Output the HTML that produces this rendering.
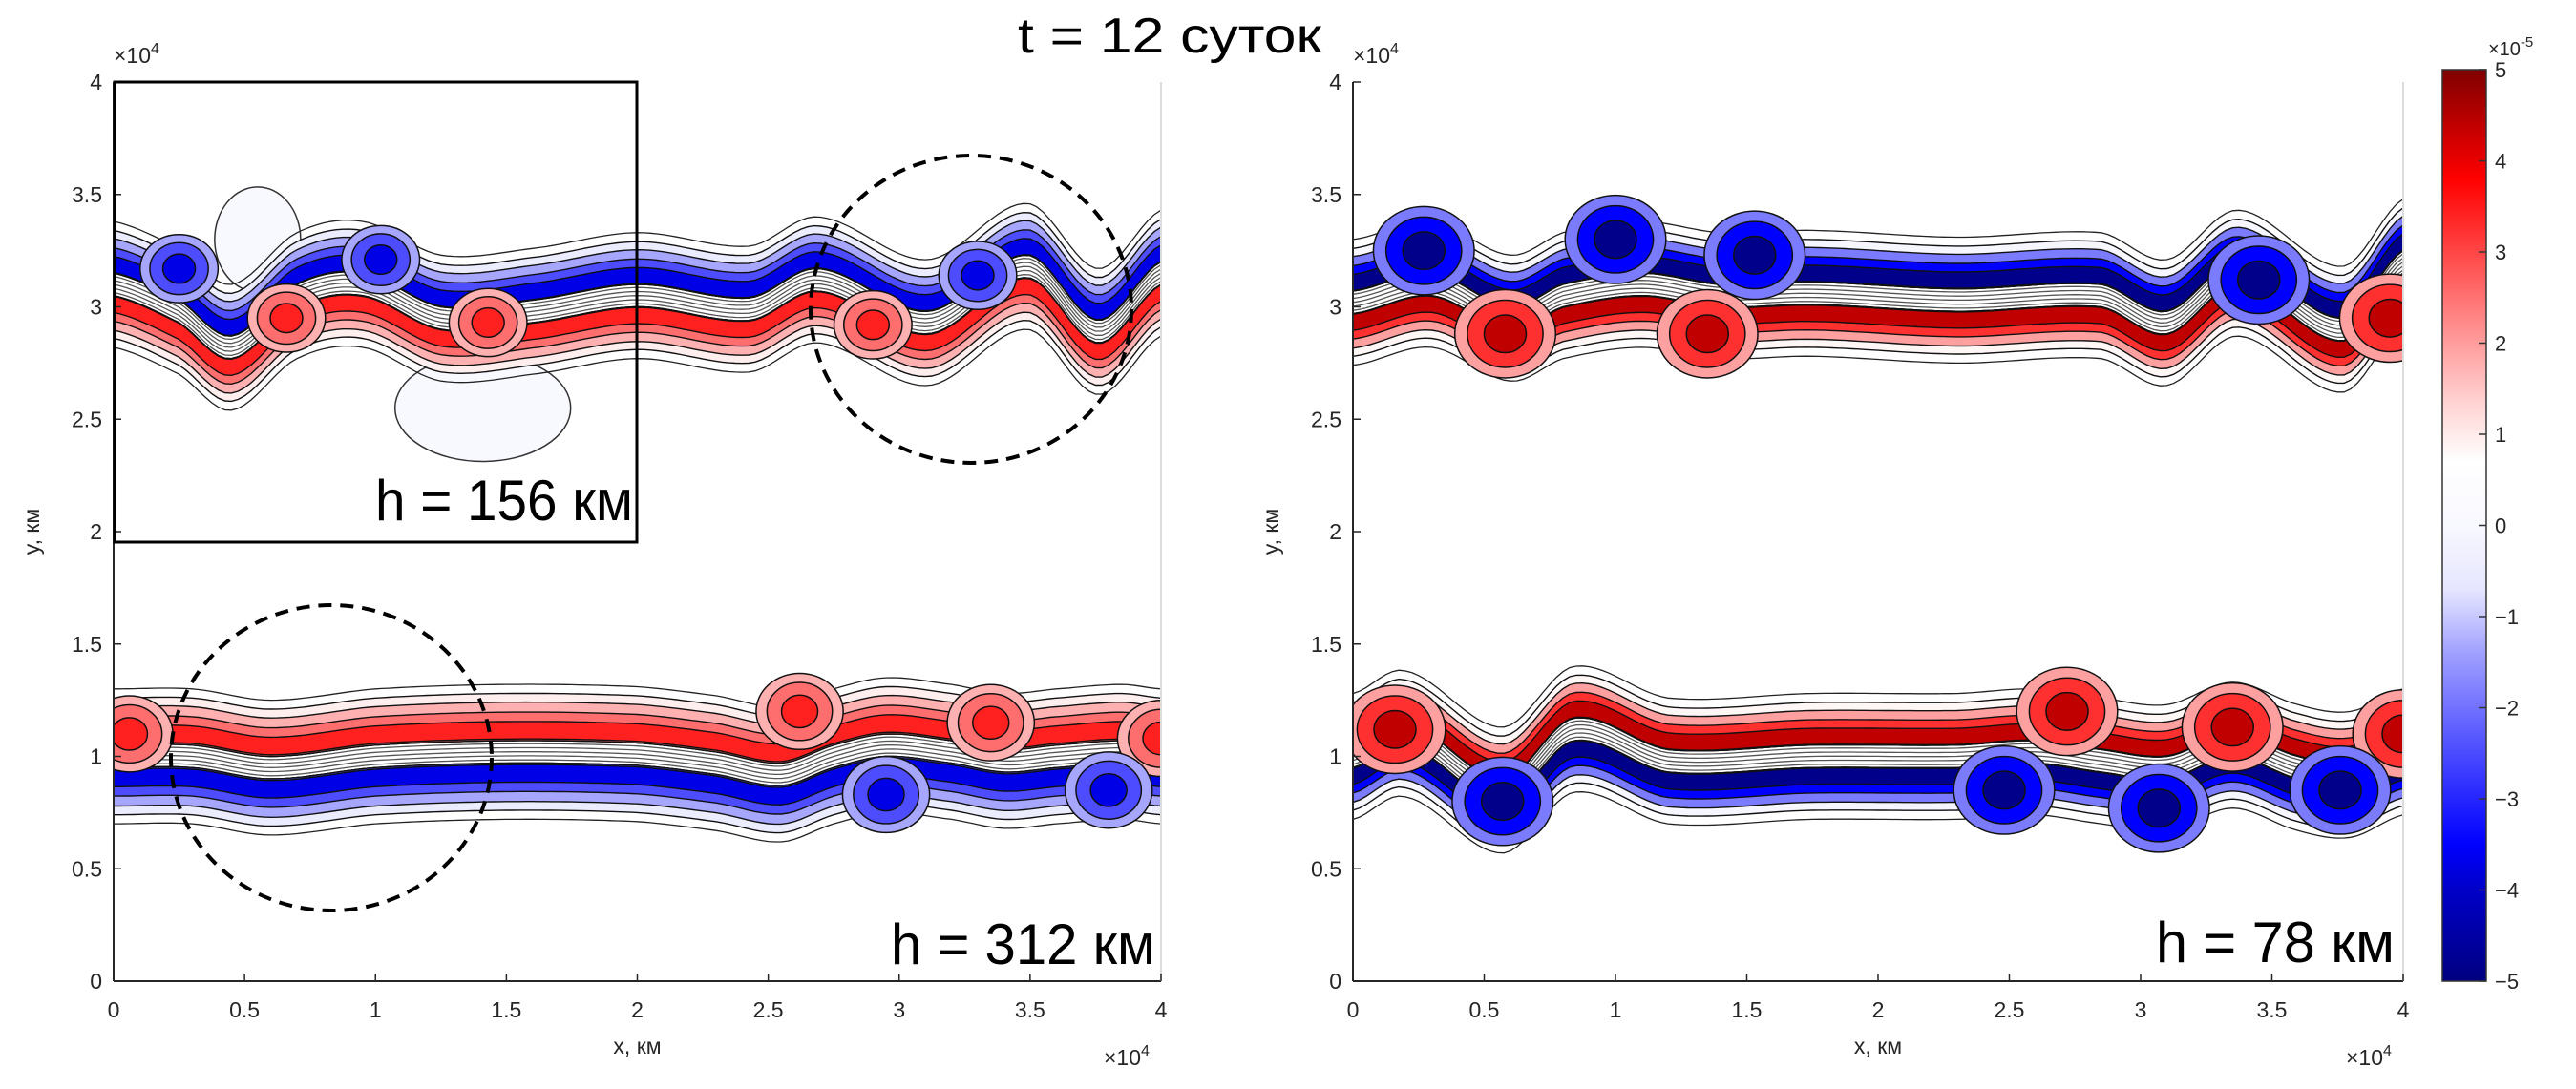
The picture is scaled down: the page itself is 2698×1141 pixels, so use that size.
<!DOCTYPE html>
<html><head><meta charset="utf-8"><style>
html,body{margin:0;padding:0;background:#fff;}
svg{display:block;font-family:"Liberation Sans",sans-serif;}
</style></head><body>
<svg id="fig" width="2698" height="1141" viewBox="0 0 2698 1141" xmlns="http://www.w3.org/2000/svg">
<defs>
<clipPath id="clipL"><rect x="119" y="86" width="1097" height="942"/></clipPath>
<clipPath id="clipR"><rect x="1417" y="86" width="1100" height="942"/></clipPath>
<linearGradient id="cbar" x1="0" y1="1" x2="0" y2="0">
<stop offset="0" stop-color="#000080"/><stop offset="0.1" stop-color="#0000c8"/>
<stop offset="0.15" stop-color="#0000ff"/><stop offset="0.27" stop-color="#5a5aff"/>
<stop offset="0.36" stop-color="#a0a0ff"/><stop offset="0.43" stop-color="#e6e6ff"/>
<stop offset="0.5" stop-color="#f8f8ff"/><stop offset="0.57" stop-color="#ffffff"/>
<stop offset="0.63" stop-color="#ffd6d6"/><stop offset="0.72" stop-color="#ff8c8c"/>
<stop offset="0.82" stop-color="#ff3434"/><stop offset="0.88" stop-color="#ff0000"/>
<stop offset="1" stop-color="#800000"/>
</linearGradient>
</defs>
<text x="1225" y="55" font-size="52" text-anchor="middle" fill="#000" textLength="318" lengthAdjust="spacingAndGlyphs">t = 12 суток</text>
<g id="panelL"><g id="fieldL" clip-path="url(#clipL)"></g></g>
<g id="panelR"><g id="fieldR" clip-path="url(#clipR)"></g></g>
<g id="axes"></g>
<rect x="120" y="86" width="547" height="482" fill="none" stroke="#000" stroke-width="3"/>
<ellipse cx="1017" cy="324" rx="168" ry="161" fill="none" stroke="#000" stroke-width="4" stroke-dasharray="14,9"/>
<ellipse cx="347" cy="794" rx="168" ry="160" fill="none" stroke="#000" stroke-width="4" stroke-dasharray="14,9"/>
<text x="663" y="545" font-size="60" text-anchor="end" textLength="270" lengthAdjust="spacingAndGlyphs">h = 156 км</text>
<text x="1210" y="1010" font-size="60" text-anchor="end" textLength="277" lengthAdjust="spacingAndGlyphs">h = 312 км</text>
<text x="2508" y="1008" font-size="60" text-anchor="end" textLength="250" lengthAdjust="spacingAndGlyphs">h = 78 км</text>
<rect x="2558" y="73" width="46" height="955" fill="url(#cbar)" stroke="#333" stroke-width="1.5"/>
<g id="cbticks"></g>
<text x="2606" y="58" font-size="20" fill="#262626">×10<tspan dy="-9" font-size="15">-5</tspan></text>
</svg>
<script>
// ---- data (x, y in units of 1e4 km) ----
var ltX = [0,0.25,0.45,0.7,0.95,1.25,1.6,2.0,2.43,2.69,3.11,3.49,3.76,4.0];
var ltC = [3.1,2.98,2.82,3.05,3.1,2.95,2.98,3.05,2.99,3.12,2.93,3.18,2.89,3.15];
var lbX = [0,0.3,0.6,1.0,1.5,2.0,2.3,2.55,2.75,2.95,3.2,3.4,3.6,3.85,4.0];
var lbC = [1.0,1.0,0.95,1.0,1.02,1.01,0.97,0.92,1.0,1.05,1.02,0.98,1.0,1.02,1.0];
var rtX = [0,0.3,0.6,0.8,1.1,1.4,1.75,2.3,2.85,3.1,3.37,3.77,4.0];
var rtC = [3.02,3.1,2.95,3.05,3.1,3.05,3.06,3.03,3.05,2.93,3.15,2.9,3.2];
var rbX = [0,0.2,0.57,0.84,1.2,1.75,2.3,2.6,2.85,3.1,3.35,3.6,3.8,4.0];
var rbC = [1.0,1.1,0.85,1.12,0.98,1.0,1.0,1.02,0.98,0.95,1.05,0.95,0.92,1.02];
// vortices: x, y, sign(+1 red / -1 blue)
var ltVx = [0.25,1.02,0.66,1.43,3.3,2.9];
var ltVy = [3.17,3.21,2.95,2.93,3.14,2.92];
var ltVs = [-1,-1,1,1,-1,1];
var lbVx = [2.62,3.35,4.0,2.95,3.8,0.06];
var lbVy = [1.2,1.15,1.08,0.83,0.85,1.1];
var lbVs = [1,1,1,-1,-1,1];
var rtVx = [0.27,1.0,1.53,0.58,1.35,3.95,3.45];
var rtVy = [3.25,3.3,3.23,2.88,2.88,2.95,3.12];
var rtVs = [-1,-1,-1,1,1,1,-1];
var rbVx = [0.16,2.72,3.35,4.0,0.57,2.48,3.07,3.76];
var rbVy = [1.12,1.2,1.13,1.1,0.8,0.85,0.77,0.85];
var rbVs = [1,1,1,1,-1,-1,-1,-1];
var xTicks = ["0","0.5","1","1.5","2","2.5","3","3.5","4"];
var yTicks = ["0","0.5","1","1.5","2","2.5","3","3.5","4"];
var cbTicks = ["-5","-4","-3","-2","-1","0","1","2","3","4","5"];

var NS="http://www.w3.org/2000/svg";
function mk(t,a,p){var e=document.createElementNS(NS,t);for(var k in a)e.setAttribute(k,a[k]);p.appendChild(e);return e;}
var panels={L:{x0:119,x1:1216},R:{x0:1417,x1:2517}};
var Y0=1028,Y1=86;
function sx(P,x){return P.x0+x*(P.x1-P.x0)/4;}
function sy(y){return Y0-y*(Y0-Y1)/4;}
function interp(xs,ys,x){
  var n=xs.length;if(x<=xs[0])return ys[0];if(x>=xs[n-1])return ys[n-1];
  var i=0;while(xs[i+1]<x)i++;
  var t=(x-xs[i])/(xs[i+1]-xs[i]);
  var p0=ys[Math.max(i-1,0)],p1=ys[i],p2=ys[i+1],p3=ys[Math.min(i+2,n-1)];
  var m1=(p2-p0)/2,m2=(p3-p1)/2;
  var t2=t*t,t3=t2*t;
  return (2*t3-3*t2+1)*p1+(t3-2*t2+t)*m1+(-2*t3+3*t2)*p2+(t3-t2)*m2;
}
function bandPath(P,xs,cs,a,b){
  var N=160,up=[],dn=[];
  for(var i=0;i<=N;i++){var x=4*i/N,c=interp(xs,cs,x);
    up.push(sx(P,x).toFixed(1)+","+sy(c+b).toFixed(1));
    dn.push(sx(P,x).toFixed(1)+","+sy(c+a).toFixed(1));}
  return "M"+up.join("L")+"L"+dn.reverse().join("L")+"Z";
}
function linePath(P,xs,cs,o){
  var N=160,pts=[];
  for(var i=0;i<=N;i++){var x=4*i/N,c=interp(xs,cs,x);pts.push(sx(P,x).toFixed(1)+","+sy(c+o).toFixed(1));}
  return "M"+pts.join("L");
}
var palL={b:["#ececff","#a6a6ff","#4d4dff","#0000e6"],r:["#ffeeee","#ffb0b0","#ff6e6e","#ff2020"]};
var palR={b:["#f6f6ff","#7b7bff","#0000ff","#00008b"],r:["#fff6f6","#ffa0a0","#ff3030","#c00000"]};
function jet(g,P,xs,cs,topSign,W,pal,name){
  var gp=0.05;
  var topSet=topSign>0?pal.r:pal.b, botSet=topSign>0?pal.b:pal.r;
  var layers=[[gp,W,0],[gp,0.85*W,1],[gp,0.68*W,2],[0.22*W,0.52*W,3]];
  for(var k=0;k<layers.length;k++){
    var L=layers[k];
    var e=mk("path",{d:bandPath(P,xs,cs,L[0],L[1]),fill:topSet[L[2]],stroke:"#111","stroke-width":1.4},g);
    
    
    var e2=mk("path",{d:bandPath(P,xs,cs,-L[1],-L[0]),fill:botSet[L[2]],stroke:"#111","stroke-width":1.4},g);
    
    
  }
  for(var j=-2;j<=2;j++){
    var l=mk("path",{d:linePath(P,xs,cs,j*0.018),fill:"none",stroke:"#555","stroke-width":1.3},g);
    
    
  }
  var o1=mk("path",{d:linePath(P,xs,cs,W+0.04),fill:"none",stroke:"#222","stroke-width":1.3},g);
  
  
  var o2=mk("path",{d:linePath(P,xs,cs,-W-0.04),fill:"none",stroke:"#222","stroke-width":1.3},g);
  
  
}
function vortices(g,P,vx,vy,vs,pal,R,name){
  for(var i=0;i<vx.length;i++){
    var set=vs[i]>0?pal.r:pal.b;
    var cx=sx(P,vx[i]),cy=sy(vy[i]);
    var radii=[[R*1.2,R*1.05,1],[R*0.9,R*0.8,2],[R*0.5,R*0.45,3]];
    for(var k=0;k<radii.length;k++){
      var e=mk("ellipse",{cx:cx,cy:cy,rx:radii[k][0],ry:radii[k][1],fill:set[radii[k][2]],stroke:"#111","stroke-width":1.5},g);
      
      
    }
  }
}
var fL=document.getElementById("fieldL"),fR=document.getElementById("fieldR");
var pb=mk("ellipse",{cx:sx(panels.L,1.41),cy:sy(2.55),rx:92,ry:56,fill:"#f8f8ff",stroke:"#333","stroke-width":1.5},fL);


var pb2=mk("ellipse",{cx:sx(panels.L,0.55),cy:sy(3.3),rx:45,ry:55,fill:"#f8f8ff",stroke:"#333","stroke-width":1.5},fL);


jet(fL,panels.L,ltX,ltC,-1,0.24,palL,"left-top-jet");
vortices(fL,panels.L,ltVx,ltVy,ltVs,palL,34,"left-top");
jet(fL,panels.L,lbX,lbC,1,0.26,palL,"left-bottom-jet");
vortices(fL,panels.L,lbVx,lbVy,lbVs,palL,38,"left-bottom");
jet(fR,panels.R,rtX,rtC,-1,0.24,palR,"right-top-jet");
vortices(fR,panels.R,rtVx,rtVy,rtVs,palR,44,"right-top");
jet(fR,panels.R,rbX,rbC,1,0.24,palR,"right-bottom-jet");
vortices(fR,panels.R,rbVx,rbVy,rbVs,palR,44,"right-bottom");

var ax=document.getElementById("axes");
["L","R"].forEach(function(k){
  var P=panels[k];
  var a=mk("line",{x1:P.x0,y1:Y0,x2:P.x1,y2:Y0,stroke:"#262626","stroke-width":2},ax);
  
  
  var b=mk("line",{x1:P.x0,y1:Y0,x2:P.x0,y2:Y1,stroke:"#262626","stroke-width":2},ax);
  
  
  var c=mk("line",{x1:P.x1,y1:Y0,x2:P.x1,y2:Y1,stroke:"#dcdcdc","stroke-width":2},ax);
  
  
  for(var i=0;i<xTicks.length;i++){
    var x=sx(P,parseFloat(xTicks[i]));
    var t=mk("text",{x:x,y:1066,"font-size":23,"text-anchor":"middle",fill:"#262626"},ax);t.textContent=xTicks[i];
    
    
    var tk=mk("line",{x1:x,y1:Y0,x2:x,y2:Y0-8,stroke:"#262626","stroke-width":1.5},ax);
    
    
  }
  for(var j=0;j<yTicks.length;j++){
    var y=sy(parseFloat(yTicks[j]));
    var u=mk("text",{x:P.x0-12,y:y+8,"font-size":23,"text-anchor":"end",fill:"#262626"},ax);u.textContent=yTicks[j];
    
    
    var tk2=mk("line",{x1:P.x0,y1:y,x2:P.x0+8,y2:y,stroke:"#262626","stroke-width":1.5},ax);
    
    
  }
  var xl=mk("text",{x:(P.x0+P.x1)/2,y:1104,"font-size":23,"text-anchor":"middle",fill:"#262626"},ax);xl.textContent="x, км";
  
  
  var yl=mk("text",{x:0,y:0,"font-size":23,"text-anchor":"middle",fill:"#262626",transform:"translate("+(P.x0-78)+",557) rotate(-90)"},ax);yl.textContent="y, км";
  
  
  var e1=mk("text",{x:P.x0,y:66,"font-size":23,fill:"#262626"},ax);e1.innerHTML='×10<tspan dy="-10" font-size="16">4</tspan>';
  
  
  var e2=mk("text",{x:P.x1-60,y:1116,"font-size":23,fill:"#262626"},ax);e2.innerHTML='×10<tspan dy="-10" font-size="16">4</tspan>';
  
  
});
var cb=document.getElementById("cbticks");
for(var i=0;i<cbTicks.length;i++){
  var v=parseFloat(cbTicks[i]);var y=1028-(v+5)/10*955;
  var t=mk("text",{x:2613,y:y+8,"font-size":22,fill:"#262626"},cb);t.textContent=cbTicks[i].replace("-","−");
  
  
  var l=mk("line",{x1:2596,y1:y,x2:2604,y2:y,stroke:"#333","stroke-width":1.5},cb);
  
  
}
</script>
</body></html>
